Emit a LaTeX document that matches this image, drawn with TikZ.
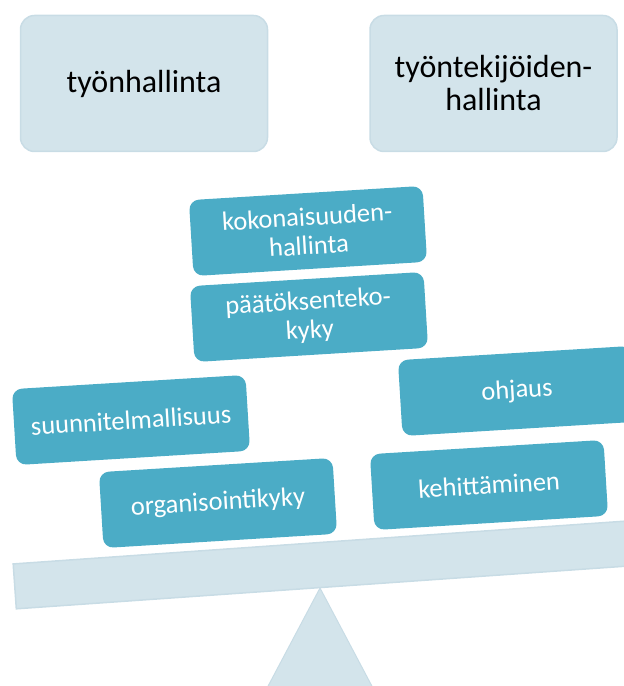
\documentclass[tikz,border=0pt]{standalone}
\usepackage{fontspec}
\setmainfont{Carlito}
\usepackage{tikz}

\definecolor{paleblue}{HTML}{D3E4EB}
\definecolor{paleedge}{HTML}{C8DCE5}
\definecolor{tealblue}{HTML}{4BACC6}

\tikzset{
  head/.style={draw=paleedge, line width=1.5pt, fill=paleblue, rounded corners=14pt,
    minimum width=247pt, minimum height=136pt, inner sep=0pt, align=center,
    font=\fontsize{32}{33}\selectfont},
  skill/.style={fill=tealblue, text=white, rounded corners=10pt, rotate=3.5,
    minimum width=234pt, minimum height=76pt, inner sep=0pt, align=center,
    font=\fontsize{26.5}{29}\selectfont}
}

\begin{document}
\begin{tikzpicture}[x=1pt, y=1pt]
  \useasboundingbox (0,0) rectangle (624,686);
  \clip (0,0) rectangle (624,686);
  % top boxes
  \node[head] (tyo) at (144,602.5) {työnhallinta};
  \node[head] (tyontek) at (493.5,602.5) {työntekijöiden-\\hallinta};
  % fulcrum
  \fill[paleblue, draw=paleedge, line width=1pt] (320,98) -- (266,-4) -- (374,-4) -- cycle;
  % beam
  \node[draw=paleedge, line width=1.5pt, fill=paleblue, rotate=4,
    minimum width=613pt, minimum height=45pt, inner sep=0pt] (beam) at (320.5,121) {};
  % skills on the beam
  \node[skill] (kokon) at (308,455) {kokonaisuuden-\\hallinta};
  \node[skill] (paatos) at (309,369) {päätöksenteko-\\kyky};
  \node[skill] (suunn) at (131,266) {suunnitelmallisuus};
  \node[skill] (ohjaus) at (517,295) {ohjaus};
  \node[skill] (organ) at (218,183) {organisointikyky};
  \node[skill] (kehit) at (489,201) {kehittäminen};
\end{tikzpicture}
\end{document}
